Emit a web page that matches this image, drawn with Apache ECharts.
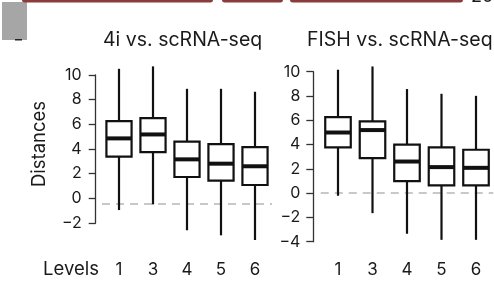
<!DOCTYPE html>
<html><head><meta charset="utf-8">
<script src="https://cdn.jsdelivr.net/npm/echarts@6/dist/echarts.min.js"></script>
<style>html,body{margin:0;padding:0;background:#fff}#c{width:494px;height:292px}</style>
</head><body><div id="c"></div>
<script>
const levels = ['1','3','4','5','6'];
const yTicksLeft = [-2,0,2,4,6,8,10];
const yTicksRight = [-4,-2,0,2,4,6,8,10];
// [min, Q1, median, Q3, max]
const box4i = [
  [-0.95, 3.38, 4.86, 6.26, 10.5],
  [-0.49, 3.75, 5.18, 6.5, 10.7],
  [-2.59, 1.73, 3.16, 4.59, 8.88],
  [-3.0, 1.43, 2.81, 4.4, 8.88],
  [-3.38, 1.08, 2.6, 4.15, 8.64]
];
const boxFish = [
  [-0.22, 3.76, 4.99, 6.26, 10.16],
  [-1.65, 2.88, 5.19, 5.9, 10.43],
  [-3.35, 0.99, 2.6, 4.0, 8.57],
  [-3.85, 0.63, 2.14, 3.76, 8.18],
  [-3.85, 0.63, 2.08, 3.57, 8.01]
];
const refLeft = -0.45;
const refRight = 0;
const titles = ['4i vs. scRNA-seq', 'FISH vs. scRNA-seq'];

const FONT = 'Inter';
const INK = '#111';

function renderBox(params, api) {
  const x = api.value(0);
  const lo = api.coord([x, api.value(1)]);
  const q1 = api.coord([x, api.value(2)]);
  const med = api.coord([x, api.value(3)]);
  const q3 = api.coord([x, api.value(4)]);
  const hi = api.coord([x, api.value(5)]);
  const bw = api.size([1, 0])[0] * 0.74;
  const cx = lo[0];
  return {
    type: 'group',
    children: [
      {type: 'line', shape: {x1: cx, y1: lo[1], x2: cx, y2: hi[1]}, style: {stroke: INK, lineWidth: 2.2}},
      {type: 'rect', shape: {x: cx - bw / 2, y: q3[1], width: bw, height: q1[1] - q3[1]}, style: {fill: '#fff', stroke: INK, lineWidth: 2.2}},
      {type: 'line', shape: {x1: cx - bw / 2, y1: med[1], x2: cx + bw / 2, y2: med[1]}, style: {stroke: INK, lineWidth: 4}}
    ]
  };
}
const toRows = arr => arr.map((d, i) => [i].concat(d));
const minus = v => String(v).replace('-', '\u2212');

const chart = echarts.init(document.getElementById('c'), null, {renderer: 'canvas'});
const axisFont = {fontFamily: FONT, fontSize: 16, color: '#1a1a1a'};

chart.setOption({
  animation: false,
  grid: [
    {left: 102, width: 170, top: 50.33, height: 203.5},   // left data
    {left: 95.7, width: 10, top: 75, height: 148},         // left axis
    {left: 320.75, width: 172.5, top: 47.4, height: 206.4}, // right data
    {left: 313.3, width: 10, top: 71.7, height: 170}        // right axis
  ],
  xAxis: [
    {gridIndex: 0, type: 'category', data: levels, boundaryGap: true, axisLine: {show: false}, axisTick: {show: false},
     axisLabel: {margin: 8, fontFamily: FONT, fontSize: 17, color: '#1a1a1a'}},
    {gridIndex: 1, type: 'value', show: false},
    {gridIndex: 2, type: 'category', data: levels, boundaryGap: true, axisLine: {show: false}, axisTick: {show: false},
     axisLabel: {margin: 8, fontFamily: FONT, fontSize: 17, color: '#1a1a1a'}},
    {gridIndex: 3, type: 'value', show: false}
  ],
  yAxis: [
    {gridIndex: 0, type: 'value', min: -4.5, max: 12, show: false},
    {gridIndex: 1, type: 'value', min: yTicksLeft[0], max: yTicksLeft[yTicksLeft.length - 1], interval: 2,
     splitLine: {show: false}, axisLine: {show: true, lineStyle: {color: '#333', width: 1.3}},
     axisTick: {show: true, length: 7, lineStyle: {color: '#333', width: 1.3}},
     axisLabel: Object.assign({margin: 14, formatter: minus}, axisFont)},
    {gridIndex: 2, type: 'value', min: -5, max: 12, show: false},
    {gridIndex: 3, type: 'value', min: yTicksRight[0], max: yTicksRight[yTicksRight.length - 1], interval: 2,
     splitLine: {show: false}, axisLine: {show: true, lineStyle: {color: '#333', width: 1.3}},
     axisTick: {show: true, length: 7, lineStyle: {color: '#333', width: 1.3}},
     axisLabel: Object.assign({margin: 13, formatter: minus}, axisFont)}
  ],
  series: [
    {type: 'line', xAxisIndex: 0, yAxisIndex: 0, data: [], z: 1,
     markLine: {silent: true, symbol: 'none', label: {show: false},
       lineStyle: {color: '#c8c8c8', type: [8, 6], width: 2}, data: [{yAxis: refLeft}]}},
    {type: 'line', xAxisIndex: 2, yAxisIndex: 2, data: [], z: 1,
     markLine: {silent: true, symbol: 'none', label: {show: false},
       lineStyle: {color: '#c8c8c8', type: [8, 6], width: 2}, data: [{yAxis: refRight}]}},
    {type: 'custom', xAxisIndex: 0, yAxisIndex: 0, z: 5, renderItem: renderBox, data: toRows(box4i),
     encode: {x: 0, y: [1, 2, 3, 4, 5]}},
    {type: 'custom', xAxisIndex: 2, yAxisIndex: 2, z: 5, renderItem: renderBox, data: toRows(boxFish),
     encode: {x: 0, y: [1, 2, 3, 4, 5]}}
  ],
  graphic: [
    {type: 'text', x: 103, y: 40, style: {text: titles[0], font: '19.5px ' + FONT, fill: '#1a1a1a', verticalAlign: 'middle'}},
    {type: 'text', x: 307, y: 40, style: {text: titles[1], font: '19.5px ' + FONT, fill: '#1a1a1a', verticalAlign: 'middle'}},
    {type: 'text', x: 39, y: 144, rotation: Math.PI / 2,
     style: {text: 'Distances', font: '18.5px ' + FONT, fill: '#1a1a1a', align: 'center', verticalAlign: 'middle'}},
    {type: 'text', x: 43, y: 269, style: {text: 'Levels', font: '18.5px ' + FONT, fill: '#1a1a1a', verticalAlign: 'middle'}},
    {type: 'rect', shape: {x: 2, y: 2, width: 25, height: 38}, style: {fill: '#a6a6a6'}},
    {type: 'rect', shape: {x: 15, y: 39, width: 7, height: 1.5}, style: {fill: '#222'}},
    {type: 'rect', shape: {x: 22, y: -3, width: 191, height: 5.5, r: 3}, style: {fill: '#8a3c3c'}},
    {type: 'rect', shape: {x: 222, y: -3, width: 61, height: 5.5, r: 3}, style: {fill: '#8a3c3c'}},
    {type: 'rect', shape: {x: 290, y: -3, width: 173, height: 5.5, r: 3}, style: {fill: '#8a3c3c'}},
    {type: 'text', x: 471, y: 6, style: {text: '20', font: '18px ' + FONT, fill: '#1a1a1a', verticalAlign: 'bottom'}}
  ]
});
</script></body></html>
